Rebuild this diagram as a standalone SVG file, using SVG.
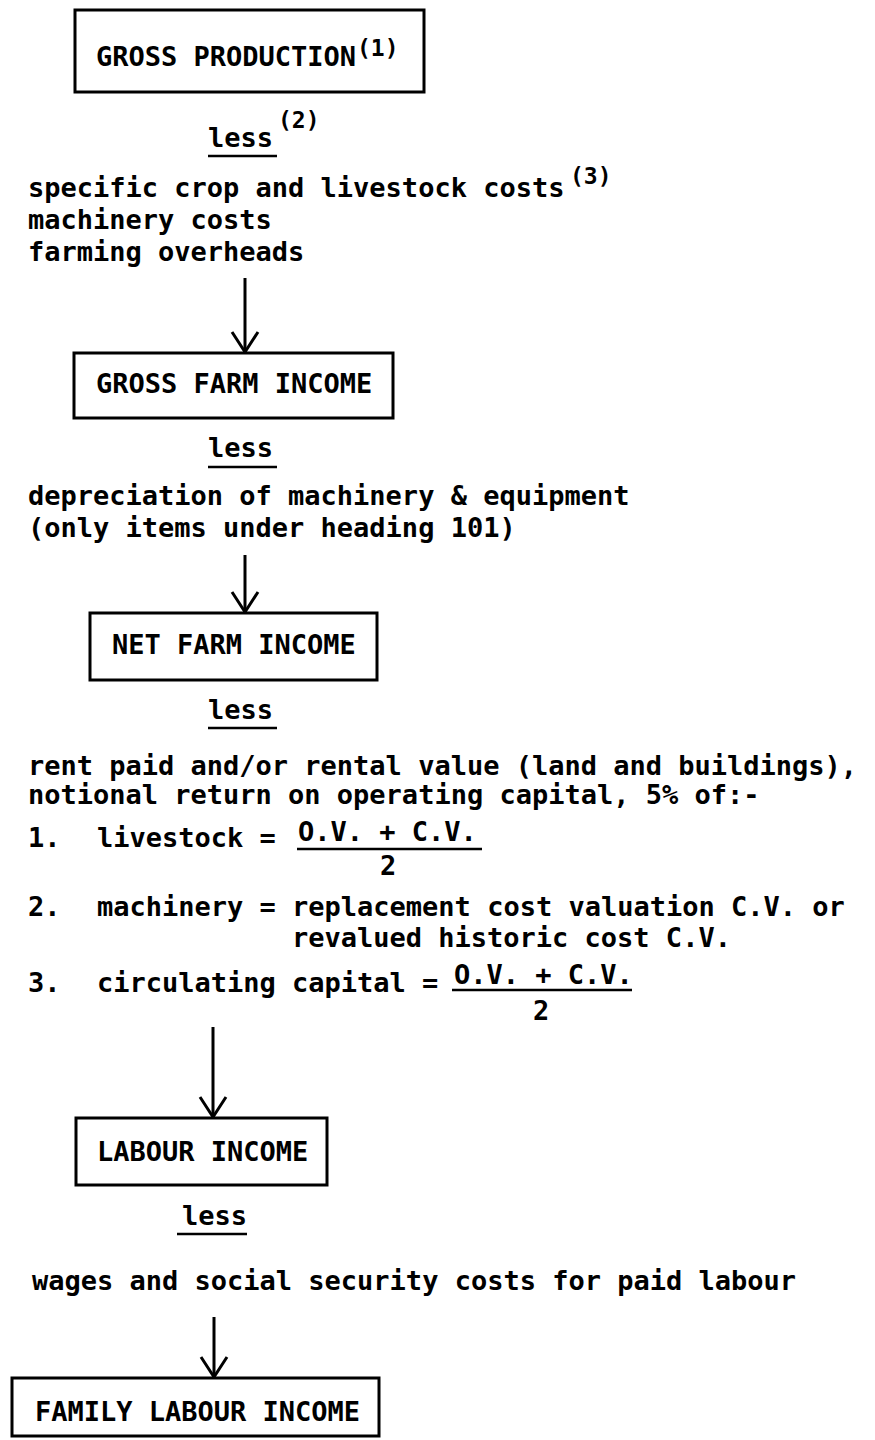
<svg xmlns="http://www.w3.org/2000/svg" width="875" height="1440" viewBox="0 0 875 1440">
<style>
  text { font-family: "DejaVu Sans Mono", "Liberation Mono", monospace; font-size: 27px; font-weight: bold; fill: #000; }
  .sup { font-size: 23px; }
  .box { fill: none; stroke: #000; stroke-width: 3; }
  .rule { stroke: #000; stroke-width: 2.5; }
  .conn { stroke: #000; stroke-width: 3; fill: none; }
</style>
<defs>
  <marker id="arrow" viewBox="-22 -15 24 30" markerWidth="24" markerHeight="30" refX="0" refY="0" markerUnits="userSpaceOnUse" orient="auto">
    <path d="M-20,-13 L0,0 L-20,13" fill="none" stroke="#000" stroke-width="3"/>
  </marker>
</defs>
<rect width="875" height="1440" fill="#fff"/>

<g id="node-gross-production">
  <rect class="box" x="75" y="10" width="349" height="82"/>
  <text x="96" y="66">GROSS PRODUCTION</text>
  <text class="sup" x="357" y="56">(1)</text>
</g>

<g id="deduction-1">
  <text x="208" y="147">less</text>
  <line class="rule" x1="208" y1="156" x2="277" y2="156"/>
  <text class="sup" x="278" y="128">(2)</text>
  <text x="28" y="197">specific crop and livestock costs</text>
  <text class="sup" x="570" y="184">(3)</text>
  <text x="28" y="229">machinery costs</text>
  <text x="28" y="261">farming overheads</text>
</g>

<g id="node-gross-farm-income">
  <rect class="box" x="74" y="353" width="319" height="65"/>
  <text x="96" y="393">GROSS FARM INCOME</text>
</g>

<g id="deduction-2">
  <text x="208" y="457">less</text>
  <line class="rule" x1="208" y1="467" x2="277" y2="467"/>
  <text x="28" y="505">depreciation of machinery &amp; equipment</text>
  <text x="28" y="537">(only items under heading 101)</text>
</g>

<g id="node-net-farm-income">
  <rect class="box" x="90" y="613" width="287" height="67"/>
  <text x="112" y="654">NET FARM INCOME</text>
</g>

<g id="deduction-3">
  <text x="208" y="719">less</text>
  <line class="rule" x1="208" y1="728" x2="277" y2="728"/>
  <text x="28" y="775">rent paid and/or rental value (land and buildings),</text>
  <text x="28" y="804">notional return on operating capital, 5% of:-</text>
  <text x="28" y="847">1.</text>
  <text x="97" y="847">livestock =</text>
  <text x="298" y="841">O.V. + C.V.</text>
  <line class="rule" x1="297" y1="849" x2="482" y2="849"/>
  <text x="380" y="875">2</text>
  <text x="28" y="916">2.</text>
  <text x="97" y="916">machinery = replacement cost valuation C.V. or</text>
  <text x="292" y="947">revalued historic cost C.V.</text>
  <text x="28" y="992">3.</text>
  <text x="97" y="992">circulating capital =</text>
  <text x="454" y="984">O.V. + C.V.</text>
  <line class="rule" x1="452" y1="990" x2="632" y2="990"/>
  <text x="533" y="1020">2</text>
</g>

<g id="node-labour-income">
  <rect class="box" x="76" y="1118" width="251" height="67"/>
  <text x="97" y="1161">LABOUR INCOME</text>
</g>

<g id="deduction-4">
  <text x="182" y="1225">less</text>
  <line class="rule" x1="177" y1="1234" x2="247" y2="1234"/>
  <text x="32" y="1290">wages and social security costs for paid labour</text>
</g>

<g id="node-family-labour-income">
  <rect class="box" x="12" y="1378" width="367" height="58"/>
  <text x="35" y="1421">FAMILY LABOUR INCOME</text>
</g>

<g id="connectors">
  <line class="conn" x1="245" y1="278" x2="245" y2="352" marker-end="url(#arrow)"/>
  <line class="conn" x1="245" y1="555" x2="245" y2="612" marker-end="url(#arrow)"/>
  <line class="conn" x1="213" y1="1027" x2="213" y2="1117" marker-end="url(#arrow)"/>
  <line class="conn" x1="214" y1="1317" x2="214" y2="1377" marker-end="url(#arrow)"/>
</g>
</svg>
